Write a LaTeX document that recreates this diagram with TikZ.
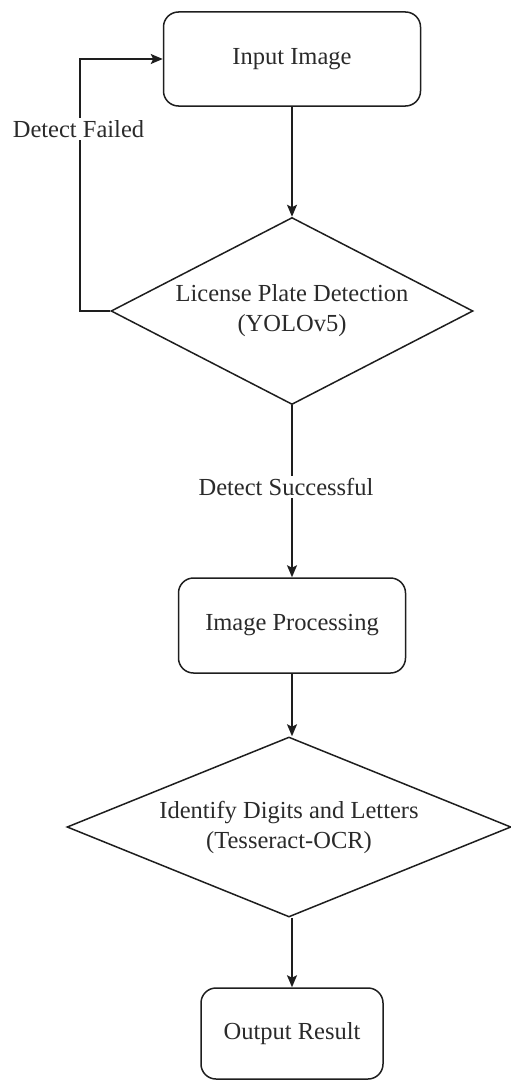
\documentclass[tikz,border=0pt]{standalone}
\usepackage{fontspec}
\setmainfont{Liberation Serif}
\usetikzlibrary{shapes.geometric,arrows.meta}
\definecolor{linec}{HTML}{1E1E1E}
\definecolor{textc}{HTML}{2A2A2A}
\begin{document}
\begin{tikzpicture}[x=1pt,y=-1pt,
  every node/.style={font=\fontsize{24.5}{30}\selectfont, text=textc},
  procbox/.style={draw=linec, line width=1.5pt, rounded corners=15pt, inner sep=0pt},
  decbox/.style={draw=linec, line width=1.5pt, shape=diamond, inner sep=0pt, align=center},
  flow/.style={draw=linec, line width=1.6pt, -{Stealth[length=12pt,width=10pt,inset=2.5pt]}},
  lbl/.style={fill=white, inner sep=2pt}
]
\useasboundingbox (0,0) rectangle (511,1081);

\node[procbox, minimum width=257pt, minimum height=94pt] (in) at (292,59) {Input Image};
\node[decbox, aspect=1.94, minimum width=362pt, minimum height=187pt] (d1) at (292,311) {License Plate Detection\\(YOLOv5)};
\node[procbox, minimum width=227pt, minimum height=95pt] (ip) at (292,625.5) {Image Processing};
\node[decbox, aspect=2.47, minimum width=444pt, minimum height=180pt] (d2) at (289,827) {Identify Digits and Letters\\(Tesseract-OCR)};
\node[procbox, minimum width=182pt, minimum height=91pt] (out) at (292,1033.5) {Output Result};

\coordinate (lb) at (80,311);
\coordinate (lt) at (80,59);

\draw[flow] (in.south) -- (in.south |- d1.north);
\draw[flow] (d1.west) -- (lb) -- (lt) -- (in.west);
\node[lbl] (fail) at (78.5,129) {Detect Failed};
\draw[flow] (d1.south) -- (d1.south |- ip.north);
\node[lbl] (succ) at (286,487) {Detect Successful};
\draw[flow] (ip.south) -- (ip.south |- d2.north);
\draw[flow] (out.north |- d2.south) -- (out.north);
\end{tikzpicture}
\end{document}
